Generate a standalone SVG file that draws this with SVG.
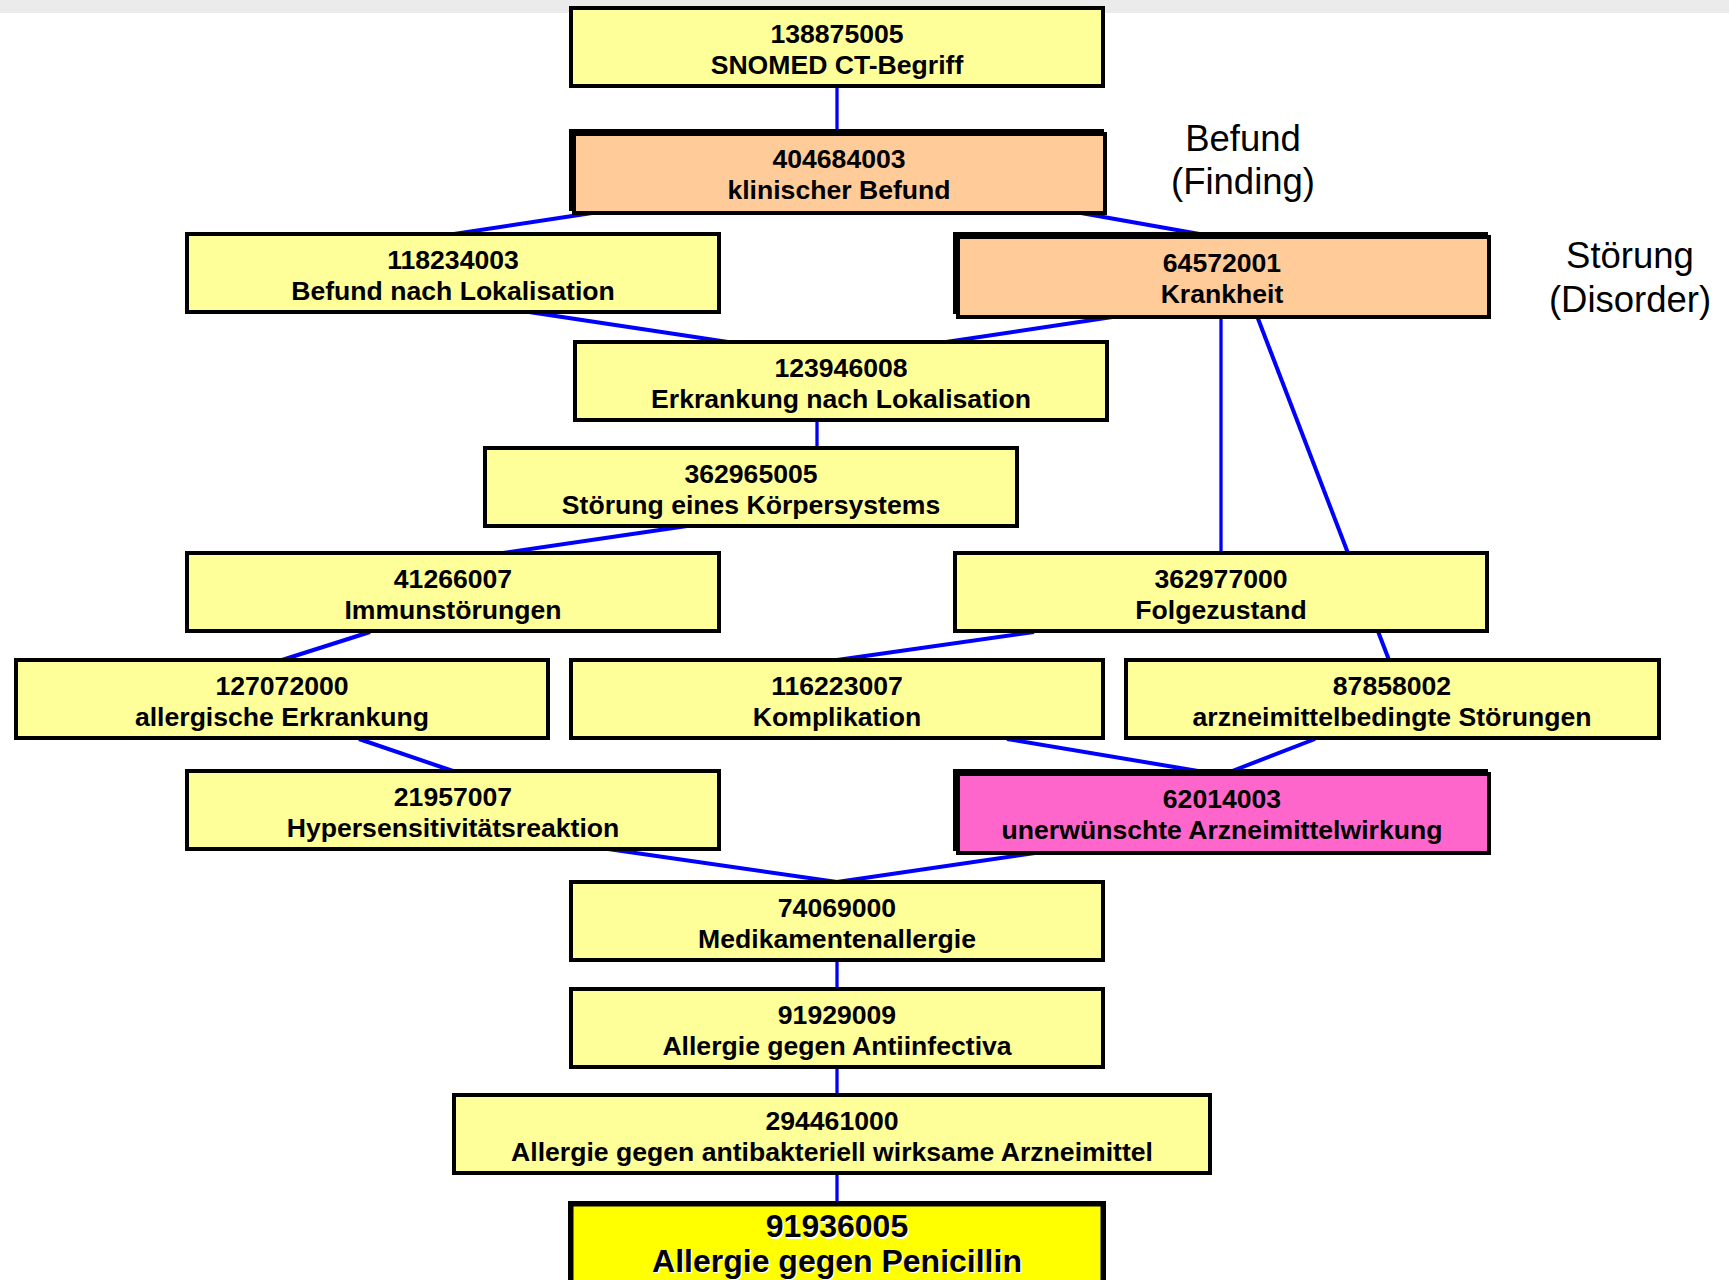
<svg xmlns="http://www.w3.org/2000/svg" width="1729" height="1280" viewBox="0 0 1729 1280">
<style>
.n{fill:#FFFF99;stroke:#000;stroke-width:4}
.o{fill:#FFCC99;stroke:#000;stroke-width:4}
.p{fill:#FF66CC;stroke:#000;stroke-width:4}
.y{fill:#FFFF00;stroke:#000;stroke-width:5.5}
.sh{fill:#000}
.t{font-family:"Liberation Sans",Arial,sans-serif;font-weight:bold;font-size:26.6px;fill:#000;text-anchor:middle}
.tb{font-family:"Liberation Sans",Arial,sans-serif;font-weight:bold;font-size:32px;fill:#000;text-anchor:middle}
.tw{fill:#fff}
.lb{font-family:"Liberation Sans",Arial,sans-serif;font-size:36.5px;fill:#000;text-anchor:middle}
.c line{stroke:#0000FF;stroke-width:4}
.c line.v{stroke-width:3.3}
</style>
<rect width="1729" height="1280" fill="#fff"/>
<rect x="0" y="0" width="1729" height="13" fill="#ebebeb"/>
<g id="connectors" class="c">
<line class="v" x1="837" y1="86" x2="837" y2="131"/>
<line x1="592" y1="213" x2="454" y2="234"/>
<line x1="1081" y1="213" x2="1222" y2="238"/>
<line x1="529" y1="312" x2="728" y2="342"/>
<line x1="1119" y1="316" x2="946" y2="342"/>
<line class="v" x1="1221" y1="316" x2="1221" y2="553"/>
<line x1="1257" y1="316" x2="1389" y2="660"/>
<line class="v" x1="817" y1="420" x2="817" y2="448"/>
<line x1="687" y1="526" x2="503" y2="553"/>
<line x1="370" y1="632" x2="282" y2="660"/>
<line x1="1034" y1="632" x2="837" y2="660"/>
<line x1="359" y1="739" x2="453" y2="771"/>
<line x1="1007" y1="739" x2="1222" y2="775"/>
<line x1="1315" y1="739" x2="1222" y2="775"/>
<line x1="608" y1="849" x2="837" y2="882"/>
<line x1="1042" y1="852" x2="837" y2="882"/>
<line class="v" x1="837" y1="960" x2="837" y2="989"/>
<line class="v" x1="837" y1="1067" x2="837" y2="1095"/>
<line class="v" x1="837" y1="1173" x2="837" y2="1202"/>
</g>
<g id="n138875005"><rect class="n" x="571" y="8" width="532" height="78"/><text class="t" x="837" y="43">138875005</text><text class="t" x="837" y="74">SNOMED CT-Begriff</text></g>
<g id="n404684003"><rect class="sh" x="569" y="129" width="535" height="82"/><rect class="o" x="574" y="134" width="531" height="79"/><text class="t" x="839" y="168">404684003</text><text class="t" x="839" y="199">klinischer Befund</text></g>
<g id="n118234003"><rect class="n" x="187" y="234" width="532" height="78"/><text class="t" x="453" y="269">118234003</text><text class="t" x="453" y="300">Befund nach Lokalisation</text></g>
<g id="n64572001"><rect class="sh" x="953" y="232" width="535" height="82"/><rect class="o" x="958" y="237" width="531" height="80"/><text class="t" x="1222" y="272">64572001</text><text class="t" x="1222" y="303">Krankheit</text></g>
<g id="n123946008"><rect class="n" x="575" y="342" width="532" height="78"/><text class="t" x="841" y="377">123946008</text><text class="t" x="841" y="408">Erkrankung nach Lokalisation</text></g>
<g id="n362965005"><rect class="n" x="485" y="448" width="532" height="78"/><text class="t" x="751" y="483">362965005</text><text class="t" x="751" y="514">Störung eines Körpersystems</text></g>
<g id="n41266007"><rect class="n" x="187" y="553" width="532" height="78"/><text class="t" x="453" y="588">41266007</text><text class="t" x="453" y="619">Immunstörungen</text></g>
<g id="n362977000"><rect class="n" x="955" y="553" width="532" height="78"/><text class="t" x="1221" y="588">362977000</text><text class="t" x="1221" y="619">Folgezustand</text></g>
<g id="n127072000"><rect class="n" x="16" y="660" width="532" height="78"/><text class="t" x="282" y="695">127072000</text><text class="t" x="282" y="726">allergische Erkrankung</text></g>
<g id="n116223007"><rect class="n" x="571" y="660" width="532" height="78"/><text class="t" x="837" y="695">116223007</text><text class="t" x="837" y="726">Komplikation</text></g>
<g id="n87858002"><rect class="n" x="1126" y="660" width="533" height="78"/><text class="t" x="1392" y="695">87858002</text><text class="t" x="1392" y="726">arzneimittelbedingte Störungen</text></g>
<g id="n21957007"><rect class="n" x="187" y="771" width="532" height="78"/><text class="t" x="453" y="806">21957007</text><text class="t" x="453" y="837">Hypersensitivitätsreaktion</text></g>
<g id="n62014003"><rect class="sh" x="953" y="769" width="535" height="82"/><rect class="p" x="958" y="774" width="531" height="79"/><text class="t" x="1222" y="808">62014003</text><text class="t" x="1222" y="839">unerwünschte Arzneimittelwirkung</text></g>
<g id="n74069000"><rect class="n" x="571" y="882" width="532" height="78"/><text class="t" x="837" y="917">74069000</text><text class="t" x="837" y="948">Medikamentenallergie</text></g>
<g id="n91929009"><rect class="n" x="571" y="989" width="532" height="78"/><text class="t" x="837" y="1024">91929009</text><text class="t" x="837" y="1055">Allergie gegen Antiinfectiva</text></g>
<g id="n294461000"><rect class="n" x="454" y="1095" width="756" height="78"/><text class="t" x="832" y="1130">294461000</text><text class="t" x="832" y="1161">Allergie gegen antibakteriell wirksame Arzneimittel</text></g>
<g id="n91936005"><rect class="y" x="570.75" y="1203.75" width="532.5" height="100"/><text class="tb tw" x="838.5" y="1238.5">91936005</text><text class="tb" x="837" y="1237">91936005</text><text class="tb tw" x="838.5" y="1273">Allergie gegen Penicillin</text><text class="tb" x="837" y="1271.5">Allergie gegen Penicillin</text></g>
<g id="labels"><text class="lb" x="1243" y="151">Befund</text><text class="lb" x="1243" y="194">(Finding)</text><text class="lb" x="1630" y="268">Störung</text><text class="lb" x="1630" y="312">(Disorder)</text></g>
</svg>
